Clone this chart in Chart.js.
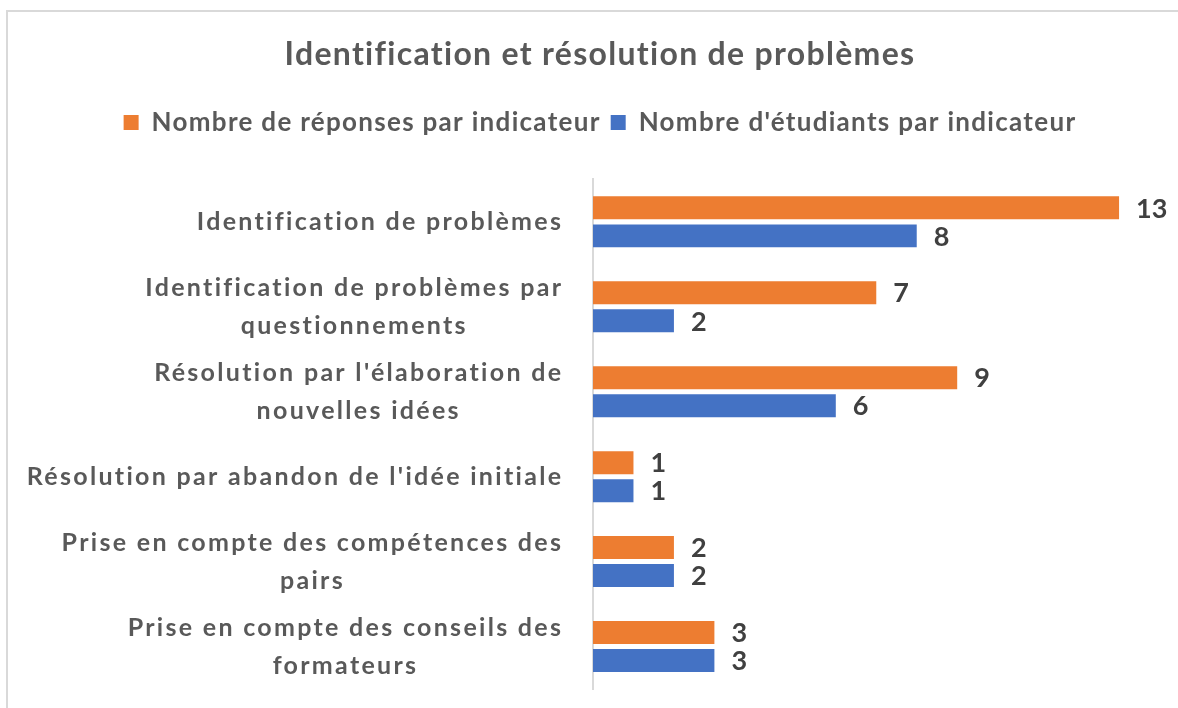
<!DOCTYPE html>
<html>
<head>
<meta charset="utf-8">
<script src="https://cdn.jsdelivr.net/npm/chart.js@4"></script>
<style>
  body { margin: 0; background: #fff; overflow: hidden; }
  #cadre { position: absolute; left: 6px; top: 10px; width: 1220px; height: 800px; border: 2px solid #D9D9D9; }
  #zone { position: absolute; left: 0; top: 0; width: 1200px; height: 708px; }
</style>
</head>
<body>
<div id="cadre"></div>
<div id="zone"><canvas id="barChart"></canvas></div>
<script>
// Données
const categories = [
    ['Identification de problèmes'],
    ['Identification de problèmes par', 'questionnements'],
    ["Résolution par l'élaboration de", 'nouvelles idées'],
    ["Résolution par abandon de l'idée initiale"],
    ['Prise en compte des compétences des', 'pairs'],
    ['Prise en compte des conseils des', 'formateurs']
];
const reponses = [13, 7, 9, 1, 2, 3];
const etudiants = [8, 2, 6, 1, 2, 3];

const police = 'Lato, "Open Sans", sans-serif';
const gris = '#595959';

// Espacement des lettres pour le titre et la légende (rendu proche de Calibri)
const espacement = {
    id: 'espacement',
    beforeLayout(chart) { chart.ctx.letterSpacing = '1.3px'; },
    beforeDraw(chart) { chart.ctx.letterSpacing = '1.3px'; }
};

// Étiquettes de catégories : lignes centrées, bloc aligné à droite
const etiquettesY = {
    id: 'etiquettesY',
    afterDraw(chart) {
        const ctx = chart.ctx;
        const y = chart.scales.y;
        const droite = chart.chartArea.left - 32;
        ctx.save();
        ctx.letterSpacing = '2.3px';
        ctx.font = 'bold 25px ' + police;
        ctx.fillStyle = gris;
        ctx.textAlign = 'left';
        ctx.textBaseline = 'middle';
        categories.forEach(function(lignes, i) {
            const largeurs = lignes.map(l => ctx.measureText(l).width - 2.3);
            const largeur = Math.max.apply(null, largeurs);
            const cx = droite - largeur / 2;
            const cy = y.getPixelForTick(i);
            const pas = 38;
            lignes.forEach(function(l, j) {
                ctx.fillText(l, cx - largeurs[j] / 2, cy + (j - (lignes.length - 1) / 2) * pas);
            });
        });
        ctx.restore();
    }
};

// Valeurs au bout des barres
const valeurs = {
    id: 'valeurs',
    afterDatasetsDraw(chart) {
        const ctx = chart.ctx;
        ctx.save();
        ctx.letterSpacing = '0px';
        ctx.font = 'bold 27px ' + police;
        ctx.fillStyle = '#404040';
        ctx.textAlign = 'left';
        ctx.textBaseline = 'middle';
        chart.data.datasets.forEach(function(ds, i) {
            chart.getDatasetMeta(i).data.forEach(function(bar, j) {
                ctx.fillText(ds.data[j], bar.x + 17, bar.y + 1);
            });
        });
        ctx.restore();
    }
};

// Espace sous la légende
const margeLegende = {
    id: 'margeLegende',
    beforeInit(chart) {
        const fit = chart.legend.fit;
        chart.legend.fit = function() {
            fit.bind(chart.legend)();
            this.height += 34;
        };
    }
};

const ctx = document.getElementById('barChart').getContext('2d');
const barChart = new Chart(ctx, {
    type: 'bar',
    data: {
        labels: categories.map(c => c.join(' ')),
        datasets: [
            {
                label: 'Nombre de réponses par indicateur',
                data: reponses,
                backgroundColor: '#ED7D31'
            },
            {
                label: "Nombre d'étudiants par indicateur",
                data: etudiants,
                backgroundColor: '#4472C4'
            }
        ]
    },
    options: {
        indexAxis: 'y',
        responsive: true,
        maintainAspectRatio: false,
        animation: false,
        categoryPercentage: 0.66,
        barPercentage: 0.82,
        layout: {
            padding: { left: 0, right: 0, top: 0, bottom: 19 }
        },
        scales: {
            x: {
                display: false,
                min: 0,
                max: 15
            },
            y: {
                grid: { display: false },
                border: { display: true, color: '#D9D9D9', width: 2 },
                ticks: { display: false },
                afterFit: function(scale) { scale.width = 593; }
            }
        },
        plugins: {
            title: {
                display: true,
                text: 'Identification et résolution de problèmes',
                color: gris,
                font: { family: police, size: 32, weight: 'bold' },
                padding: { top: 35, bottom: 26 }
            },
            legend: {
                position: 'top',
                labels: {
                    color: gris,
                    font: { family: police, size: 26, weight: 'bold' },
                    boxWidth: 15,
                    boxHeight: 15,
                    padding: 10
                }
            },
            tooltip: { enabled: false }
        }
    },
    plugins: [espacement, etiquettesY, valeurs, margeLegende]
});
</script>
</body>
</html>
